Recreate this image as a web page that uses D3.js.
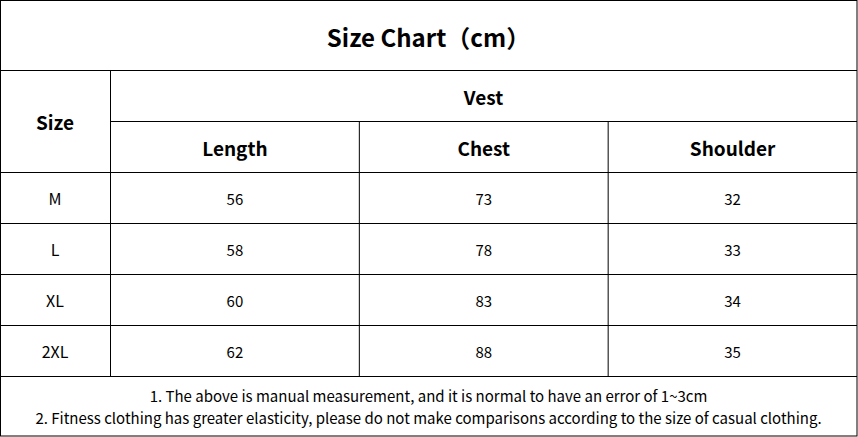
<!DOCTYPE html>
<html><head><meta charset="utf-8">
<script src="https://cdn.jsdelivr.net/npm/d3@7"></script>
<style>body{margin:0;background:#fff}text{font-family:"Noto Sans CJK SC","Open Sans",sans-serif;fill:#000}</style>
</head><body><svg id="c" width="858" height="437"></svg>
<script>
const title = "Size Chart（cm）";
const group = "Vest";
const columns = ["Length", "Chest", "Shoulder"];
const sizes = ["M", "L", "XL", "2XL"];
const length = [56, 58, 60, 62];
const chest = [73, 78, 83, 88];
const shoulder = [32, 33, 34, 35];
const notes = ["1. The above is manual measurement, and it is normal to have an error of 1~3cm",
 "2. Fitness clothing has greater elasticity, please do not make comparisons according to the size of casual clothing."];

const svg = d3.select("#c");
const W = 857, x0 = 0.5, sizeW = 110;
const xCol = d3.scaleBand().domain(columns).range([110.5, W]);
const yRow = d3.scaleBand().domain(sizes).range([172.5, 376.5]);
const line = (x1,y1,x2,y2)=>svg.append("line").attr("x1",x1).attr("y1",y1).attr("x2",x2).attr("y2",y2).attr("stroke","#000").attr("stroke-width",1);
const txt = (x,y,s,size,bold)=>svg.append("text").attr("x",x).attr("y",y).attr("text-anchor","middle").attr("dominant-baseline","central").attr("font-size",size).attr("font-weight",bold?"bold":"normal").text(s);

svg.append("rect").attr("x",0.5).attr("y",0.5).attr("width",W-0.5).attr("height",436-0.5).attr("fill","none").attr("stroke","#000");
line(0,70.5,W,70.5);
line(110.5,121.5,W,121.5);
line(0,172.5,W,172.5);
sizes.forEach(s=>line(0,yRow(s)+yRow.bandwidth(),W,yRow(s)+yRow.bandwidth()));
line(110.5,70.5,110.5,376.5);
columns.slice(1).forEach(c=>line(xCol(c),121.5,xCol(c),376.5));

txt(W/2,36,title,24,true);
txt(55,121,"Size",19,true);
txt((110+W)/2,96,group,19,true);
columns.forEach(c=>txt(xCol(c)+xCol.bandwidth()/2,147,c,19,true));
const vals=[length,chest,shoulder];
sizes.forEach((s,i)=>{
  const cy=yRow(s)+yRow.bandwidth()/2;
  txt(55,cy,s,16,false);
  columns.forEach((c,j)=>txt(xCol(c)+xCol.bandwidth()/2,cy,vals[j][i],15,false));
});
txt(W/2,395,notes[0],15,false);
txt(W/2,417,notes[1],15,false);
</script></body></html>
